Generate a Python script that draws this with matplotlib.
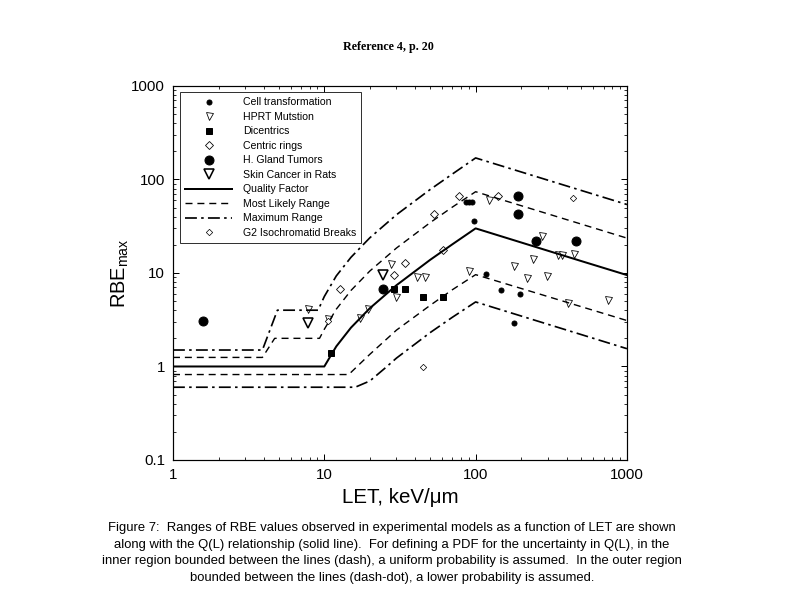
import numpy as np
import matplotlib
matplotlib.use("Agg")
import matplotlib.pyplot as plt

# ==== data ====
# Q(L) quality factor (solid)
qf_let = [1, 10, 12, 15, 20, 30, 50, 70, 100, 200, 500, 1000]
qf_val = [1.0, 1.0, 1.64, 2.6, 4.2, 7.4, 13.8, 20.2, 30, 21.2, 13.4, 9.5]

# most likely range (dashed)
ml_hi_let = [1, 3.9, 4.7, 9.3, 10, 12, 15, 20, 30, 50, 70, 100, 1000]
ml_hi_val = [1.25, 1.25, 2.0, 2.0, 2.5, 4.1, 6.5, 10.5, 18.5, 34.5, 50.5, 74, 23.6]
ml_lo_let = [1, 14.5, 17, 20, 30, 50, 70, 100, 1000]
ml_lo_val = [0.82, 0.82, 1.05, 1.35, 2.45, 4.5, 6.6, 9.6, 3.1]

# maximum range (dash-dot)
mx_hi_let = [1, 3.9, 4.9, 9.1, 10, 12, 15, 20, 30, 50, 70, 100, 1000]
mx_hi_val = [1.5, 1.5, 4.0, 4.0, 5.6, 9.3, 14.7, 23.8, 42, 78, 114, 170, 54]
mx_lo_let = [1, 16, 20, 25, 30, 50, 70, 100, 1000]
mx_lo_val = [0.6, 0.6, 0.7, 0.95, 1.23, 2.3, 3.35, 4.9, 1.55]

# experimental points
cell_let = [87, 91, 95, 98, 118, 148, 195, 178]
cell_val = [57, 57, 57, 35.6, 9.7, 6.6, 5.9, 2.95]

hprt_let = [7.8, 10.6, 17.3, 19.5, 27.4, 30, 41, 46, 90, 122, 178, 217, 240,
            273, 295, 350, 370, 405, 450, 750]
hprt_val = [4.1, 3.2, 3.3, 4.1, 12.6, 5.5, 9.0, 9.0, 10.4, 61, 11.8, 8.9, 14,
            25, 9.2, 15.4, 15.4, 4.8, 16, 5.2]

dic_let = [11, 29, 34.4, 45, 61]
dic_val = [1.41, 6.8, 6.7, 5.6, 5.6]

ring_let = [12.7, 29, 34.4, 53, 61, 78, 140]
ring_val = [6.8, 9.6, 12.9, 43, 17.8, 67, 66]

gland_let = [1.58, 24.6, 190, 190, 250, 460]
gland_val = [3.1, 6.8, 66, 43, 22, 22]

skin_let = [7.8, 24.6]
skin_val = [2.95, 9.6]

g2_let = [10.6, 45, 440]
g2_val = [3.1, 0.98, 64]

caption = [
    "Figure 7:  Ranges of RBE values observed in experimental models as a function of LET are shown",
    "along with the Q(L) relationship (solid line).  For defining a PDF for the uncertainty in Q(L), in the",
    "inner region bounded between the lines (dash), a uniform probability is assumed.  In the outer region",
    "bounded between the lines (dash-dot), a lower probability is assumed.",
]

# ==== figure ====
plt.rcParams['font.family'] = ['Liberation Sans', 'DejaVu Sans']
plt.rcParams['mathtext.fontset'] = 'custom'
plt.rcParams['mathtext.rm'] = 'Liberation Sans'
plt.rcParams['mathtext.it'] = 'Liberation Sans:italic'

fig = plt.figure(figsize=(11, 8.5), dpi=72)
ax = fig.add_axes([0.2184, 0.2484, 0.5732, 0.6111])

dash = (0, (5, 3.5))
dashdot = (0, (7, 2.5, 1.5, 2.5))

ax.plot(cell_let, cell_val, 'o', color='k', ms=5, ls='none', label='Cell transformation')
ax.plot(hprt_let, hprt_val, 'v', mfc='white', mec='k', mew=0.8, ms=7, ls='none', label='HPRT Mutstion')
ax.plot(dic_let, dic_val, 's', color='k', ms=5.5, ls='none', label='Dicentrics')
ax.plot(ring_let, ring_val, 'D', mfc='white', mec='k', mew=0.8, ms=5.5, ls='none', label='Centric rings')
ax.plot(gland_let, gland_val, 'o', color='k', ms=9, ls='none', label='H. Gland Tumors')
ax.plot(skin_let, skin_val, 'v', mfc='white', mec='k', mew=1.6, ms=10, ls='none', label='Skin Cancer in Rats')
ax.plot(qf_let, qf_val, color='k', lw=2.0, label='Quality Factor')
ax.plot(ml_hi_let, ml_hi_val, color='k', lw=1.4, ls=dash, label='Most Likely Range')
ax.plot(ml_lo_let, ml_lo_val, color='k', lw=1.4, ls=dash)
ax.plot(mx_hi_let, mx_hi_val, color='k', lw=1.7, ls=dashdot, label='Maximum Range')
ax.plot(mx_lo_let, mx_lo_val, color='k', lw=1.7, ls=dashdot)
ax.plot(g2_let, g2_val, 'D', mfc='white', mec='k', mew=0.7, ms=4.5, ls='none', label='G2 Isochromatid Breaks')

ax.set_xscale('log')
ax.set_yscale('log')
ax.set_xlim(1, 1000)
ax.set_ylim(0.1, 1000)
ax.set_xticks([1, 10, 100, 1000])
ax.set_xticklabels(['1', '10', '100', '1000'])
ax.set_yticks([0.1, 1, 10, 100, 1000])
ax.set_yticklabels(['0.1', '1', '10', '100', '1000'])
ax.tick_params(which='both', direction='in', top=True, right=True)
ax.tick_params(which='major', length=6, width=1, labelsize=15, pad=8)
ax.tick_params(which='minor', length=3, width=0.8)
for s in ax.spines.values():
    s.set_linewidth(1.2)

ax.set_xlabel('LET, keV/\u03bcm', fontsize=20.5, labelpad=6)
ax.set_ylabel('RBE$_{\\mathrm{max}}$', fontsize=20, labelpad=0)

leg = ax.legend(loc='upper left', bbox_to_anchor=(0.015, 0.984), borderaxespad=0,
                fontsize=10.5, labelspacing=0.43, handlelength=4.5, handletextpad=1.0,
                borderpad=0.5, frameon=True, fancybox=False, numpoints=1)
leg.get_frame().set_edgecolor('k')
leg.get_frame().set_linewidth(1.0)

fig.text(0.49, 1 - 47 / 612, 'Reference 4, p. 20', family='Liberation Serif',
         weight='bold', fontsize=12, ha='center', va='center')

for i, line in enumerate(caption):
    fig.text(0.495, 1 - (528 + 16.7 * i) / 612, line, fontsize=13, ha='center', va='center')

fig.savefig('out.png', dpi=72)
